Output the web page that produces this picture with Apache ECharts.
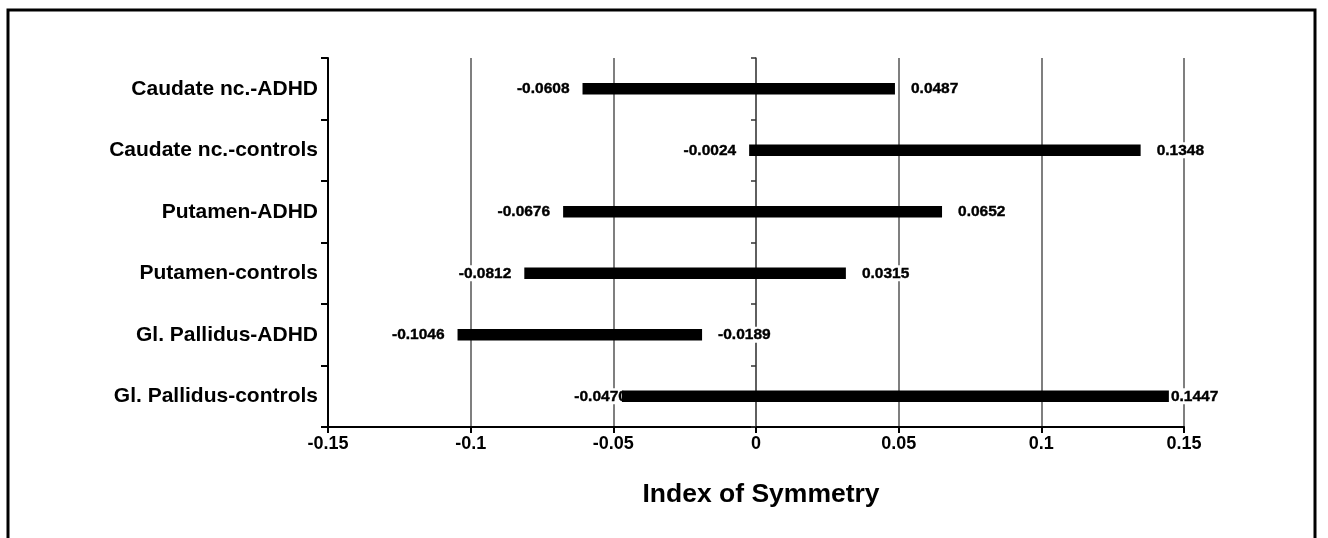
<!DOCTYPE html>
<html>
<head>
<meta charset="utf-8">
<script src="https://cdn.jsdelivr.net/npm/echarts@6/dist/echarts.min.js"></script>
<style>
html,body{margin:0;padding:0;background:#fff;}
#chart{width:1328px;height:538px;}
</style>
</head>
<body>
<div id="chart"></div>
<script>
var categories = ['Caudate nc.-ADHD','Caudate nc.-controls','Putamen-ADHD','Putamen-controls','Gl. Pallidus-ADHD','Gl. Pallidus-controls'];
var lowValues  = [-0.0608, -0.0024, -0.0676, -0.0812, -0.1046, -0.0470];
var highValues = [0.0487, 0.1348, 0.0652, 0.0315, -0.0189, 0.1447];
var xTicks = {min: -0.15, max: 0.15, interval: 0.05};
var axisTitle = 'Index of Symmetry';

var chart = echarts.init(document.getElementById('chart'));
var font = '"Liberation Sans", Arial, sans-serif';

var barData = categories.map(function(c, i){ return [i, lowValues[i], highValues[i]]; });
var lowLabelData = categories.map(function(c, i){
  var d = {value: [lowValues[i], i]};
  if (i === 5) d.label = {distance: -6};
  return d;
});
var highLabelData = categories.map(function(c, i){
  var d = {value: [highValues[i], i]};
  if (i === 5) d.label = {distance: 1};
  return d;
});

var labelStyle = {
  show: true, color: '#000', opacity: 1, fontFamily: font, fontWeight: 'bold', fontSize: 15.5,
  textBorderColor: '#000', textBorderWidth: 0.4,
  backgroundColor: '#fff', padding: [0, 1],
  formatter: function(p){ return p.value[0].toFixed(4); }
};

chart.setOption({
  animation: false,
  backgroundColor: '#fff',
  graphic: [{
    type: 'rect', z: 100,
    shape: {x: 8, y: 10, width: 1307, height: 600},
    style: {fill: 'none', stroke: '#000', lineWidth: 3}
  }],
  grid: {left: 328, right: 144, top: 58, bottom: 111, containLabel: false},
  xAxis: {
    type: 'value', min: xTicks.min, max: xTicks.max, interval: xTicks.interval,
    name: axisTitle, nameLocation: 'middle', nameGap: 54,
    nameTextStyle: {color: '#000', fontFamily: font, fontWeight: 'bold', fontSize: 26.5, padding: [0, 0, 0, 10]},
    axisLine: {show: true, onZero: false, lineStyle: {color: '#000', width: 2}},
    axisTick: {show: true, length: 6, lineStyle: {color: '#000', width: 2}},
    axisLabel: {color: '#000', fontFamily: font, fontWeight: 'bold', fontSize: 18, margin: 8,
      formatter: function(v){ return String(Math.round(v*100)/100); }},
    splitLine: {show: true, lineStyle: {color: '#555', width: 1.5}}
  },
  yAxis: [{
    type: 'category', data: categories, inverse: true, position: 'left',
    axisLine: {show: true, onZero: false, lineStyle: {color: '#000', width: 2}},
    axisTick: {show: true, length: 7, lineStyle: {color: '#000', width: 2}},
    axisLabel: {color: '#000', fontFamily: font, fontWeight: 'bold', fontSize: 21, margin: 10},
    splitLine: {show: false}
  }, {
    type: 'category', data: categories, inverse: true, position: 'left',
    axisLine: {show: true, onZero: true, lineStyle: {color: '#555', width: 1.5}},
    axisTick: {show: true, length: 5, lineStyle: {color: '#333', width: 1.5}},
    axisLabel: {show: false},
    splitLine: {show: false}
  }],
  series: [{
    type: 'scatter', z: 1, xAxisIndex: 0, yAxisIndex: 0,
    symbolSize: 0, itemStyle: {color: '#000'},
    label: Object.assign({position: 'left', distance: 12}, labelStyle),
    data: lowLabelData, silent: true
  }, {
    type: 'scatter', z: 1, xAxisIndex: 0, yAxisIndex: 0,
    symbolSize: 0, itemStyle: {color: '#000'},
    label: Object.assign({position: 'right', distance: 15}, labelStyle),
    data: highLabelData, silent: true
  }, {
    type: 'custom', z: 5, xAxisIndex: 0, yAxisIndex: 0,
    encode: {x: [1, 2], y: 0},
    data: barData,
    renderItem: function(params, api){
      var idx = api.value(0);
      var s = api.coord([api.value(1), idx]);
      var e = api.coord([api.value(2), idx]);
      var h = api.size([0, 1])[1] * 0.19;
      return {type: 'rect', shape: {x: s[0], y: s[1] - h/2, width: e[0] - s[0], height: h}, style: {fill: '#000'}};
    }
  }]
});
</script>
</body>
</html>
